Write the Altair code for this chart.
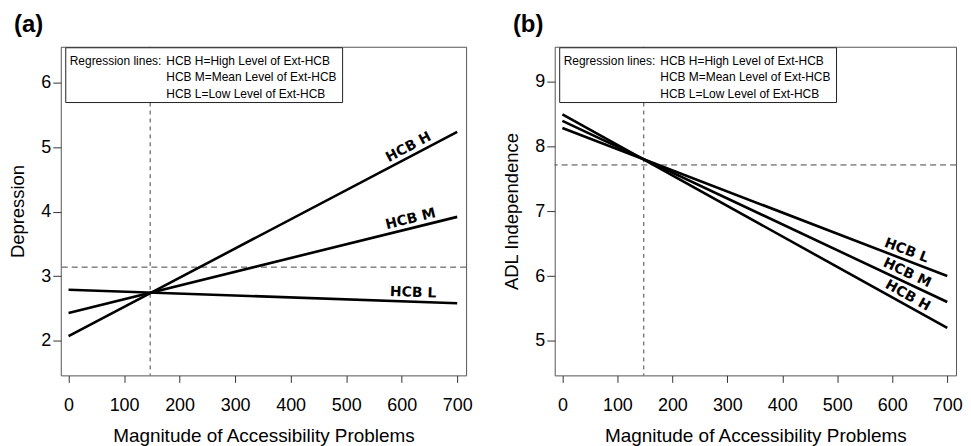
import math
import altair as alt
import pandas as pd

# ---------------- data ----------------
levels = ["HCB H", "HCB M", "HCB L"]
x_ends = [0, 700]
a_start = [2.07, 2.43, 2.79]
a_end = [5.24, 3.92, 2.58]
b_start = [8.49, 8.39, 8.28]
b_end = [5.20, 5.60, 6.00]
a_ref = {"x": 147, "y": 3.14}
b_ref = {"x": 148, "y": 7.71}
x_ticks = [0, 100, 200, 300, 400, 500, 600, 700]
a_y_ticks = [2, 3, 4, 5, 6]
b_y_ticks = [5, 6, 7, 8, 9]
legend_head = "Regression lines:"
legend_items = ["HCB H=High Level of Ext-HCB",
                "HCB M=Mean Level of Ext-HCB",
                "HCB L=Low Level of Ext-HCB"]

# ---------------- layout / style ----------------
WA, WB, H = 407, 403, 330
X_DOM = [-14, 716]
A_DOM = [1.46, 6.56]
B_DOM = [4.47, 9.53]
LABEL_X = 620
FONT = "Liberation Sans"


def line_df(starts, ends):
    rows = []
    for lv, s, e in zip(levels, starts, ends):
        rows.append({"level": lv, "x": x_ends[0], "y": s})
        rows.append({"level": lv, "x": x_ends[1], "y": e})
    return pd.DataFrame(rows)


def label_df(starts, ends, ydom, w):
    rows = []
    px_x = w / (X_DOM[1] - X_DOM[0])
    px_y = H / (ydom[1] - ydom[0])
    for lv, s, e in zip(levels, starts, ends):
        slope = (e - s) / (x_ends[1] - x_ends[0])
        y = s + slope * (LABEL_X - x_ends[0])
        ang = math.degrees(math.atan(-slope * px_y / px_x))
        rows.append({"level": lv, "x": LABEL_X, "y": y, "angle": ang % 360})
    return pd.DataFrame(rows)


def panel(starts, ends, ydom, yticks, ref, ytitle, tag, tag_x, w):
    xs = alt.Scale(domain=X_DOM, nice=False, zero=False)
    ys = alt.Scale(domain=ydom, nice=False, zero=False)
    xax = alt.Axis(values=x_ticks, title="Magnitude of Accessibility Problems",
                   grid=False, domain=False, tickSize=7, labelPadding=14,
                   titlePadding=12, labelFontSize=18, titleFontSize=19)
    yax = alt.Axis(values=yticks, title=ytitle, grid=False, domain=False,
                   tickSize=8, labelPadding=2, titlePadding=13,
                   labelFontSize=18, titleFontSize=18.5)

    dummy = alt.Data(values=[{"k": 1}])

    vline = alt.Chart(dummy).mark_rule(color="#444", strokeWidth=1, strokeDash=[4, 4]).encode(
        x=alt.X(datum=ref["x"], type="quantitative", scale=xs, axis=xax))
    hline = alt.Chart(dummy).mark_rule(color="#444", strokeWidth=1, strokeDash=[6, 4]).encode(
        y=alt.Y(datum=ref["y"], type="quantitative", scale=ys, axis=yax))

    box = alt.Chart(dummy).mark_rect(fill="white", stroke="#222", strokeWidth=1).encode(
        x=alt.value(5), x2=alt.value(283), y=alt.value(1), y2=alt.value(56))
    texts = [alt.Chart(dummy).mark_text(align="left", baseline="middle", font=FONT,
                                        fontSize=12, color="black").encode(
        x=alt.value(9), y=alt.value(14), text=alt.value(legend_head))]
    for i, t in enumerate(legend_items):
        texts.append(alt.Chart(dummy).mark_text(align="left", baseline="middle", font=FONT,
                                                fontSize=12, color="black").encode(
            x=alt.value(106), y=alt.value(14 + 16.5 * i), text=alt.value(t)))

    lines = alt.Chart(line_df(starts, ends)).mark_line(color="black", strokeWidth=2.6).encode(
        x=alt.X("x:Q", scale=xs, axis=xax),
        y=alt.Y("y:Q", scale=ys, axis=yax),
        detail="level:N")
    labs = alt.Chart(label_df(starts, ends, ydom, w)).mark_text(
        font="DejaVu Sans", fontWeight="bold", fontSize=14, baseline="middle",
        align="center", dy=-9, color="black").encode(
        x=alt.X("x:Q", scale=xs, axis=xax),
        y=alt.Y("y:Q", scale=ys, axis=yax),
        angle=alt.Angle("angle:Q", scale=None),
        text="level:N")
    tagmark = alt.Chart(dummy).mark_text(align="left", baseline="middle", font=FONT,
                                         fontWeight="bold", fontSize=24, color="black").encode(
        x=alt.value(tag_x), y=alt.value(-22), text=alt.value(tag))

    return alt.layer(vline, hline, box, *texts, lines, labs, tagmark).properties(width=w, height=H)


pa = panel(a_start, a_end, A_DOM, a_y_ticks, a_ref, "Depression", "(a)", -47, WA)
pb = panel(b_start, b_end, B_DOM, b_y_ticks, b_ref, "ADL Independence", "(b)", -42, WB)

chart = alt.hconcat(pa, pb, spacing=29).properties(
    padding={"left": 0, "top": 3, "right": 0, "bottom": 5}
).configure_view(stroke="#555", strokeWidth=1).configure_axis(
    labelFont=FONT, titleFont=FONT, labelColor="black", titleColor="black",
    tickColor="#333", titleFontWeight="normal")

chart.save("out.html", embed_options={"renderer": "svg", "actions": False})
